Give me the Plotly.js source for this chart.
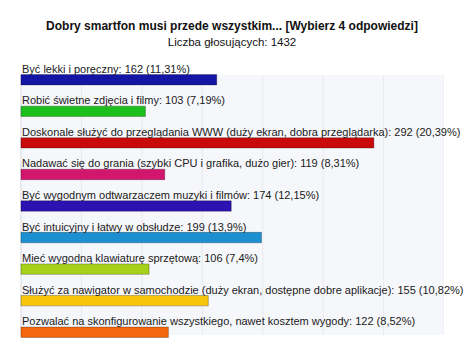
<!DOCTYPE html>
<html>
<head>
<meta charset="utf-8">
<script src="https://cdn.plot.ly/plotly-3.0.1.min.js"></script>
<style>html,body{margin:0;padding:0;background:#fff;}#chart{width:464px;height:352px;}</style>
</head>
<body>
<div id="chart"></div>
<script>
const categories = [
  "Być lekki i poręczny",
  "Robić świetne zdjęcia i filmy",
  "Doskonale służyć do przeglądania WWW (duży ekran, dobra przeglądarka)",
  "Nadawać się do grania (szybki CPU i grafika, dużo gier)",
  "Być wygodnym odtwarzaczem muzyki i filmów",
  "Być intuicyjny i łatwy w obsłudze",
  "Mieć wygodną klawiaturę sprzętową",
  "Służyć za nawigator w samochodzie (duży ekran, dostępne dobre aplikacje)",
  "Pozwalać na skonfigurowanie wszystkiego, nawet kosztem wygody"
];
const votes = [162, 103, 292, 119, 174, 199, 106, 155, 122];
const percentLabels = ["11,31", "7,19", "20,39", "8,31", "12,15", "13,9", "7,4", "10,82", "8,52"];
const barColors = ["#1515a5", "#1cbf1c", "#c80a0a", "#d2166e", "#2c12b0", "#1c8fd0", "#a6d11a", "#f7c60b", "#f4670c"];
const gridTicks = [0, 50, 100, 150, 200, 250, 300, 350];

const idx = categories.map((_, i) => i);
const FONT = "Liberation Sans, Arial, sans-serif";

const trace = {
  type: "bar",
  orientation: "h",
  x: votes,
  y: idx,
  width: 0.33,
  marker: { color: barColors, line: { color: "rgba(0,0,0,0.25)", width: 1 } },
  hoverinfo: "x"
};

const annotations = categories.map((c, i) => ({
  x: 0, y: i, xref: "x", yref: "y",
  xanchor: "left", yanchor: "middle",
  yshift: 11, xshift: -1,
  showarrow: false,
  text: c + ": " + votes[i] + " (" + percentLabels[i] + "%)",
  font: { family: FONT, size: 11, color: "#1a1a1a" }
}));

const shapes = [{
  type: "rect", xref: "x", yref: "y", layer: "below",
  x0: 0, x1: 350, y0: -0.15, y1: 8.09,
  fillcolor: "#f6f7fb", line: { width: 0 }
}].concat(gridTicks.map(t => ({
  type: "line", xref: "x", yref: "y", layer: "below",
  x0: t, x1: t, y0: -0.15, y1: 8.09,
  line: { color: t === 0 ? "#d8dadf" : "#e7e9ee", width: 1 }
})));

const layout = {
  width: 464, height: 352,
  margin: { l: 16, r: 20, t: 64, b: 4 },
  paper_bgcolor: "#ffffff",
  plot_bgcolor: "rgba(0,0,0,0)",
  showlegend: false,
  title: {
    text: "<b>Dobry smartfon musi przede wszystkim... [Wybierz 4 odpowiedzi]</b><br><span style='font-size:11.5px'>Liczba głosujących: 1432</span>",
    font: { family: FONT, size: 12, color: "#111" },
    x: 0.5, xanchor: "center",
    y: 0.914, yanchor: "top", yref: "container"
  },
  xaxis: {
    range: [-4.1, 350], showgrid: false, zeroline: false,
    showticklabels: false, ticks: "", showline: false, fixedrange: true
  },
  yaxis: {
    range: [8.5, -0.5], showgrid: false, zeroline: false,
    showticklabels: false, ticks: "", showline: false, fixedrange: true
  },
  annotations: annotations,
  shapes: shapes,
  bargap: 0
};

Plotly.newPlot("chart", [trace], layout, { displayModeBar: false, staticPlot: true });
</script>
</body>
</html>
